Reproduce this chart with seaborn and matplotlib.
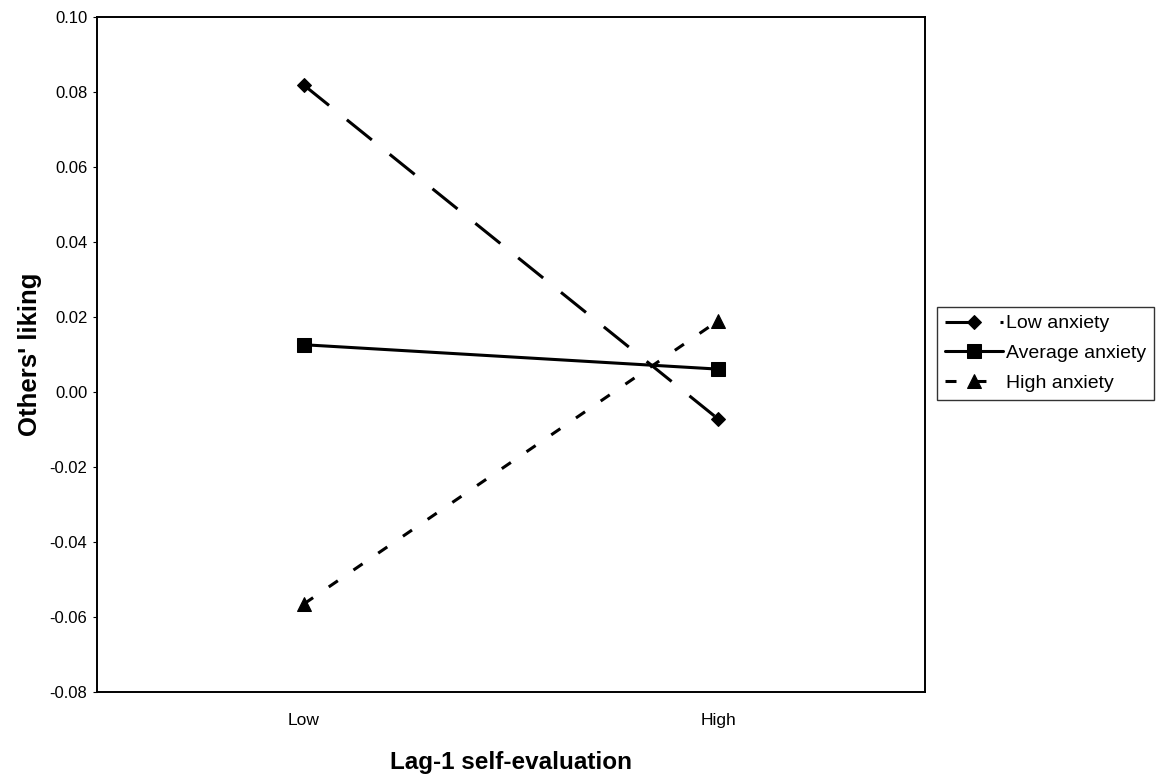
import numpy as np
import pandas as pd
import matplotlib
matplotlib.use('Agg')
import matplotlib.pyplot as plt
import seaborn as sns

# Data
levels = ['Low', 'High']
low_anxiety = [0.0818, -0.0072]
average_anxiety = [0.0126, 0.0061]
high_anxiety = [-0.0565, 0.0190]

series_names = ['Low anxiety', 'Average anxiety', 'High anxiety']
series_values = [low_anxiety, average_anxiety, high_anxiety]
markers = ['D', 's', '^']
marker_sizes = [7, 9.5, 9.5]
dash_styles = [(0, (10.5, 7.5)), '-', (0, (3.6, 6.2))]

sns.set_style('white')
plt.rcParams['font.family'] = ['Liberation Sans', 'DejaVu Sans']
plt.rcParams.update({'text.color': 'black', 'axes.labelcolor': 'black',
                     'xtick.color': 'black', 'ytick.color': 'black'})

fig = plt.figure(figsize=(11.6, 7.74), dpi=100)
ax = fig.add_axes([0.0836, 0.106, 0.714, 0.872])

x = np.arange(len(levels))
for name, vals, mk, ms, ls in zip(series_names, series_values, markers, marker_sizes, dash_styles):
    df = pd.DataFrame({'level': x, 'value': vals})
    sns.lineplot(data=df, x='level', y='value', ax=ax, color='black',
                 linewidth=2.2, linestyle=ls, marker=mk, markersize=ms,
                 markeredgecolor='black', markerfacecolor='black', label=name)

ax.set_xlim(-0.5, 1.5)
ax.set_ylim(-0.08, 0.10)
yt = np.arange(-0.08, 0.101, 0.02)
ax.set_yticks(yt)
ax.set_yticklabels([f'{v:.2f}' for v in yt])
ax.set_xticks(x)
ax.set_xticklabels(levels)
ax.set_xticks([0.5], minor=True)
ax.tick_params(axis='x', which='major', length=0, pad=15, labelsize=12.5)
ax.tick_params(axis='x', which='minor', length=3, width=0.6, color='#999999', direction='out')
ax.tick_params(axis='y', length=3, width=0.8, direction='out', labelsize=12, pad=4, left=True)

for sp in ax.spines.values():
    sp.set_color('black')
    sp.set_linewidth(1.4)

ax.set_xlabel('Lag-1 self-evaluation', fontsize=17.5, fontweight='bold', labelpad=17)
ax.set_ylabel("Others' liking", fontsize=18.5, fontweight='bold', labelpad=5)

ax.get_legend().remove()
handles, labels = ax.get_legend_handles_labels()
leg = fig.legend(handles, labels, loc='upper left', bbox_to_anchor=(937 / 1160, 1 - 307 / 774),
                 frameon=True, fancybox=False, edgecolor='black', fontsize=14,
                 handlelength=3.0, handletextpad=0.15, borderpad=0.4, labelspacing=0.62,
                 borderaxespad=0)
leg.get_frame().set_linewidth(1.0)

fig.savefig('out.png', dpi=100)
